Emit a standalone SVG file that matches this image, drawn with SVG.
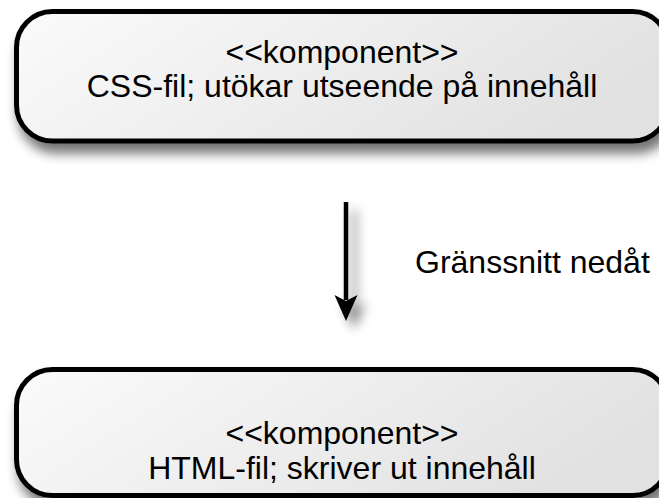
<svg xmlns="http://www.w3.org/2000/svg" width="659" height="498" viewBox="0 0 659 498">
<style>
.box{fill:url(#g);stroke:#000;stroke-width:5;filter:url(#sh)}
.t{font-family:"Liberation Sans",Arial,sans-serif;font-size:32px;fill:#000;text-anchor:middle}
.lbl{font-family:"Liberation Sans",Arial,sans-serif;font-size:32px;fill:#000}
.conn{stroke:#000;stroke-width:4.5;fill:none}
.head{fill:#000}
</style>
<defs>
<linearGradient id="g" x1="0" y1="0" x2="1" y2="0.3">
<stop offset="0" stop-color="#fbfbfb"/>
<stop offset="1" stop-color="#e2e2e2"/>
</linearGradient>
<filter id="sh" x="-10%" y="-20%" width="130%" height="160%">
<feGaussianBlur in="SourceAlpha" stdDeviation="6"/>
<feOffset dx="4" dy="10" result="b"/>
<feComponentTransfer><feFuncA type="linear" slope="0.55"/></feComponentTransfer>
<feMerge><feMergeNode/><feMergeNode in="SourceGraphic"/></feMerge>
</filter>
<filter id="sha" filterUnits="userSpaceOnUse" x="310" y="185" width="90" height="170">
<feGaussianBlur in="SourceAlpha" stdDeviation="6"/>
<feOffset dx="8" dy="8"/>
<feComponentTransfer><feFuncA type="linear" slope="0.5"/></feComponentTransfer>
<feMerge><feMergeNode/><feMergeNode in="SourceGraphic"/></feMerge>
</filter>
</defs>
<g id="connectors" filter="url(#sha)">
<path class="conn" d="M346,202 L346,300"/>
<path class="head" d="M334.5,295 L346,321 L357.5,295 L346,301 Z"/>
</g>
<g id="css">
<rect class="box" x="16.5" y="11.5" width="652" height="129.5" rx="36" ry="36"/>
<text class="t" x="342" y="63">&lt;&lt;komponent&gt;&gt;</text>
<text class="t" x="342" y="97">CSS-fil; utökar utseende på innehåll</text>
</g>
<g id="html">
<rect class="box" x="16.5" y="369.5" width="652" height="126" rx="36" ry="36"/>
<text class="t" x="342" y="444">&lt;&lt;komponent&gt;&gt;</text>
<text class="t" x="342" y="479">HTML-fil; skriver ut innehåll</text>
</g>
<text class="lbl" x="415" y="273">Gränssnitt nedåt</text>
</svg>
